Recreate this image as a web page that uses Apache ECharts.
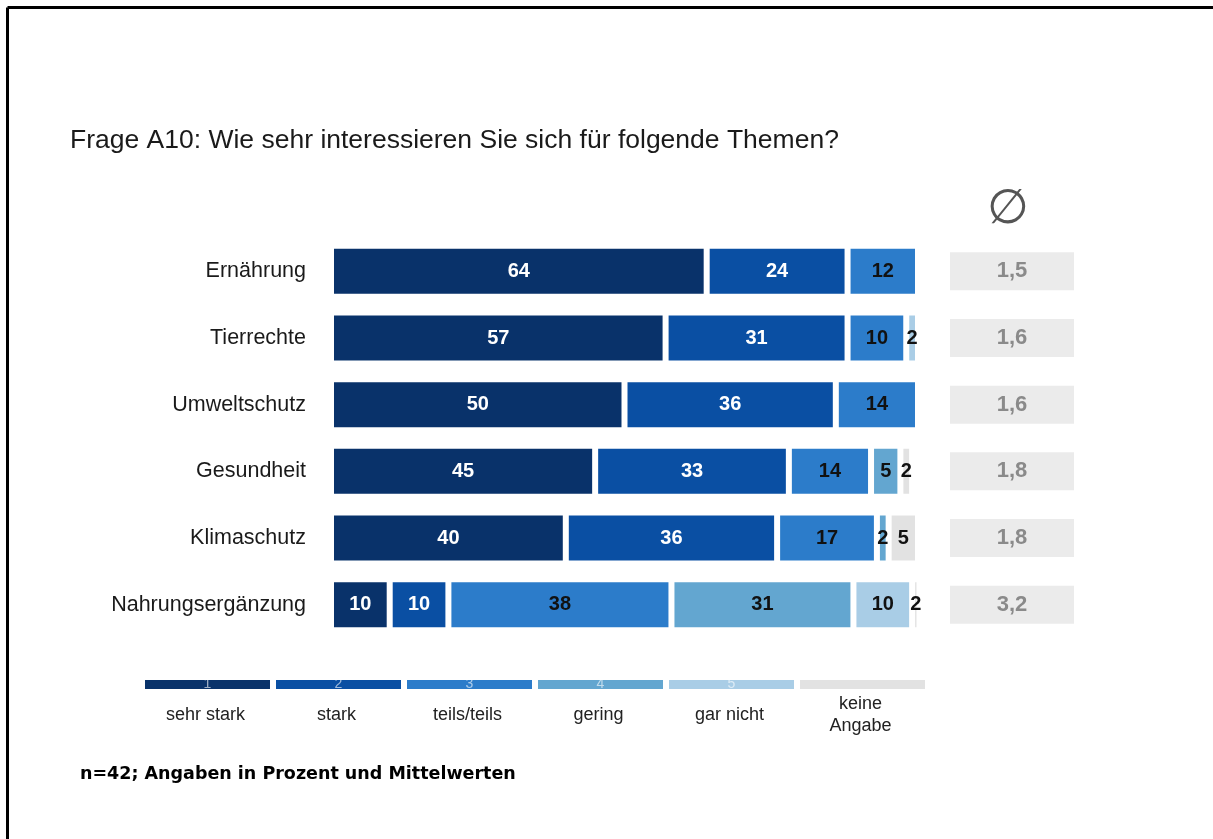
<!DOCTYPE html>
<html>
<head>
<meta charset="utf-8">
<script src="https://cdn.jsdelivr.net/npm/echarts@6/dist/echarts.min.js"></script>
<style>
html,body{margin:0;padding:0;background:#fff;}
#chart{width:1213px;height:839px;}
</style>
</head>
<body>
<div id="chart"></div>
<script>
const categories = ['Ernährung','Tierrechte','Umweltschutz','Gesundheit','Klimaschutz','Nahrungsergänzung'];
const sehrStark   = [64, 57, 50, 45, 40, 10];
const stark       = [24, 31, 36, 33, 36, 10];
const teilsTeils  = [12, 10, 14, 14, 17, 38];
const gering      = [null, null, null, 5, 2, 31];
const garNicht    = [null, 2, null, null, null, 10];
const keineAngabe = [null, null, null, 2, 5, 2];
const means       = [1.5, 1.6, 1.6, 1.8, 1.8, 3.2];

const seriesNames  = ['sehr stark','stark','teils/teils','gering','gar nicht','keine Angabe'];
const legendLabels = ['sehr stark','stark','teils/teils','gering','gar nicht','keine\nAngabe'];
const legendCodes  = ['1','2','3','4','5',''];
const colors = ['#09326a','#0a4fa3','#2c7cca','#63a6d0','#a9cde6','#e2e2e2'];
const labelColors = ['#ffffff','#ffffff','#111111','#111111','#111111','#111111'];
const seriesData = [sehrStark, stark, teilsTeils, gering, garNicht, keineAngabe];

const chart = echarts.init(document.getElementById('chart'));

const barSeries = seriesData.map((d, k) => ({
  name: seriesNames[k],
  type: 'bar',
  stack: 'total',
  xAxisIndex: 0,
  yAxisIndex: 0,
  barWidth: 51,
  data: d,
  itemStyle: { color: colors[k], borderColor: '#ffffff', borderWidth: 3 },
  label: {
    show: true,
    position: 'inside',
    color: labelColors[k],
    fontFamily: 'Liberation Sans, Arial, sans-serif',
    fontWeight: 'bold',
    fontSize: 20,
    formatter: p => (p.value == null ? '' : String(p.value))
  },
  emphasis: { disabled: true }
}));

const legendGraphics = [];
const legX0 = 145, legW = 125, legPitch = 131, legY = 680, legH = 9;
legendLabels.forEach((lab, i) => {
  const x = legX0 + i * legPitch;
  legendGraphics.push({
    type: 'rect', left: x, top: legY,
    shape: { width: legW, height: legH },
    style: { fill: colors[i] }
  });
  if (legendCodes[i]) {
    legendGraphics.push({
      type: 'text', x: x + legW / 2, y: legY + legH / 2,
      style: { text: legendCodes[i], fill: 'rgba(255,255,255,0.6)', fontSize: 14,
               fontFamily: 'Liberation Sans, Arial, sans-serif', align: 'center', verticalAlign: 'middle' }
    });
  }
  legendGraphics.push({
    type: 'text', x: x + legW / 2 - 2, y: 715,
    style: { text: lab, fill: '#222', fontSize: 18, lineHeight: 22,
             fontFamily: 'Liberation Sans, Arial, sans-serif', align: 'center', verticalAlign: 'middle' }
  });
});

const option = {
  animation: false,
  backgroundColor: '#ffffff',
  title: {
    text: 'Frage A10: Wie sehr interessieren Sie sich für folgende Themen?',
    left: 65, top: 122,
    textStyle: { fontFamily: 'Liberation Sans, Arial, sans-serif', fontSize: 26.5, fontWeight: 'normal', color: '#1a1a1a' }
  },
  grid: [
    { left: 331, top: 238, width: 587, height: 400 },
    { left: 950, top: 238, width: 124, height: 400 }
  ],
  xAxis: [
    { type: 'value', gridIndex: 0, min: 0, max: 100, show: false, splitLine: { show: false } },
    { type: 'value', gridIndex: 1, min: 0, max: 1, show: false, splitLine: { show: false } }
  ],
  yAxis: [
    {
      type: 'category', gridIndex: 0, data: categories, inverse: true,
      axisLine: { show: false }, axisTick: { show: false },
      axisLabel: { fontFamily: 'Liberation Sans, Arial, sans-serif', fontSize: 21.5, color: '#1a1a1a', margin: 25 }
    },
    { type: 'category', gridIndex: 1, data: categories, inverse: true, show: false }
  ],
  series: barSeries.concat([{
    type: 'scatter',
    xAxisIndex: 1, yAxisIndex: 1,
    symbol: 'rect',
    symbolSize: [124, 38],
    data: means.map((m, i) => [0.5, categories[i], m]),
    itemStyle: { color: '#ebebeb', opacity: 1 },
    label: {
      show: true, position: 'inside',
      color: '#8a8a8a', fontSize: 22, fontWeight: 'bold',
      fontFamily: 'Liberation Sans, Arial, sans-serif',
      formatter: p => p.data[2].toFixed(1).replace('.', ',')
    },
    emphasis: { disabled: true }
  }]),
  graphic: [
    { type: 'line', shape: { x1: 7.5, y1: 7.5, x2: 1213, y2: 7.5 }, style: { stroke: '#000', lineWidth: 3 } },
    { type: 'line', shape: { x1: 7.5, y1: 7.5, x2: 7.5, y2: 839 }, style: { stroke: '#000', lineWidth: 3 } },
    { type: 'text', x: 1008, y: 211,
      style: { text: '∅', fill: '#555', fontSize: 48, fontFamily: 'DejaVu Sans', fontWeight: 'lighter', align: 'center', verticalAlign: 'middle' } },
    { type: 'text', left: 80, top: 765,
      style: { text: 'n=42; Angaben in Prozent und Mittelwerten', fill: '#000', fontSize: 17.5, fontWeight: 'bold',
               fontFamily: 'DejaVu Sans, sans-serif' } }
  ].concat(legendGraphics)
};

chart.setOption(option);
</script>
</body>
</html>
